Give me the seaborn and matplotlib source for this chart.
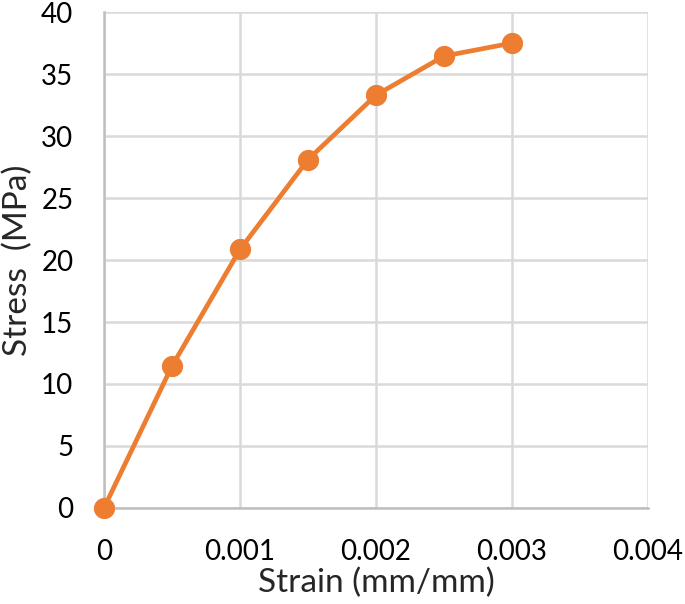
import matplotlib
matplotlib.use("Agg")
import matplotlib.pyplot as plt
import seaborn as sns
import pandas as pd

strain = [0, 0.0005, 0.001, 0.0015, 0.002, 0.0025, 0.003]
stress = [0, 11.45, 20.85, 28.1, 33.3, 36.45, 37.5]
x_ticks = [0, 0.001, 0.002, 0.003, 0.004]
x_tick_labels = ["0", "0.001", "0.002", "0.003", "0.004"]
y_ticks = [0, 5, 10, 15, 20, 25, 30, 35, 40]

sns.set_theme(style="white")
plt.rcParams["font.family"] = ["Lato", "DejaVu Sans"]

df = pd.DataFrame({"strain": strain, "stress": stress})

fig = plt.figure(figsize=(6.85, 6.04), dpi=100)
ax = fig.add_axes([0.1518, 0.159, 0.7942, 0.821])

ax.set_xlim(0, 0.004)
ax.set_ylim(0, 40)
ax.set_xticks(x_ticks)
ax.set_xticklabels(x_tick_labels)
ax.set_yticks(y_ticks)
ax.grid(True, color="#D9D9D9", linewidth=1.8)
ax.set_axisbelow(True)

sns.lineplot(data=df, x="strain", y="stress", ax=ax, color="#ED7D31",
             linewidth=3.4, marker="o", markersize=14.5,
             markeredgecolor="#ED7D31", clip_on=False, zorder=5)

for side in ["top", "right"]:
    ax.spines[side].set_visible(False)
for side in ["left", "bottom"]:
    ax.spines[side].set_color("#BFBFBF")
    ax.spines[side].set_linewidth(1.8)

ax.tick_params(axis="both", length=0, labelsize=20, colors="black")
ax.tick_params(axis="y", pad=22)
ax.tick_params(axis="x", pad=22)
ax.set_xlabel("Strain (mm/mm)", fontsize=24, labelpad=2)
ax.set_ylabel("Stress  (MPa)", fontsize=24, labelpad=6)

fig.savefig("out.png", dpi=100, facecolor="white")
